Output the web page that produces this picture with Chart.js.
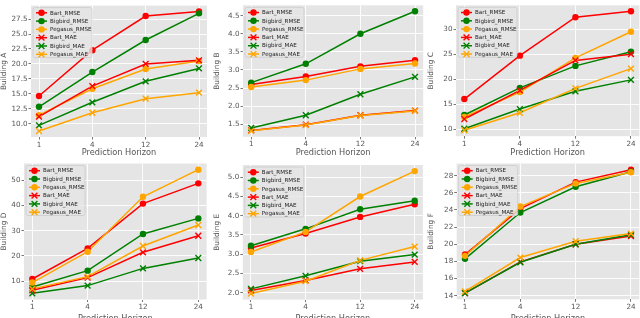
<!DOCTYPE html>
<html>
<head>
<meta charset="utf-8">
<script src="https://cdn.jsdelivr.net/npm/chart.js@4"></script>
<style>
html, body { margin: 0; padding: 0; background: #fff; }
#wrap { position: relative; width: 640px; height: 318px; overflow: hidden; }
#wrap canvas { position: absolute; }
</style>
</head>
<body>
<div id="wrap"></div>
<script>
const horizons = ['1', '4', '12', '24'];
const seriesNames = ['Bart_RMSE', 'Bigbird_RMSE', 'Pegasus_RMSE', 'Bart_MAE', 'Bigbird_MAE', 'Pegasus_MAE'];

// rows follow seriesNames, columns follow horizons
const buildingA = [
    [14.65, 22.3, 28.0, 28.75],
    [12.85, 18.65, 24.0, 28.45],
    [11.45, 15.85, 19.15, 20.5],
    [11.2, 16.3, 20.0, 20.6],
    [9.75, 13.6, 17.1, 19.25],
    [8.8, 11.85, 14.2, 15.2]
];
const buildingB = [
    [2.6, 2.82, 3.1, 3.27],
    [2.65, 3.17, 4.0, 4.62],
    [2.53, 2.72, 3.03, 3.18],
    [1.33, 1.49, 1.75, 1.88],
    [1.4, 1.75, 2.33, 2.81],
    [1.32, 1.48, 1.74, 1.87]
];
const buildingC = [
    [16.0, 24.7, 32.4, 33.6],
    [12.8, 18.25, 22.65, 25.5],
    [12.4, 17.4, 24.25, 29.5],
    [12.0, 17.75, 23.75, 25.0],
    [10.05, 14.0, 17.55, 19.85],
    [9.75, 13.25, 18.15, 22.1]
];
const buildingD = [
    [10.9, 23.0, 40.7, 48.7],
    [7.75, 14.2, 28.7, 34.85],
    [9.5, 21.7, 43.4, 54.1],
    [6.45, 11.45, 21.45, 28.0],
    [5.25, 8.3, 15.1, 19.2],
    [7.0, 11.85, 23.95, 32.25]
];
const buildingE = [
    [3.16, 3.54, 3.97, 4.30],
    [3.22, 3.66, 4.17, 4.39],
    [3.06, 3.58, 4.50, 5.16],
    [2.06, 2.32, 2.62, 2.80],
    [2.10, 2.44, 2.82, 2.99],
    [1.98, 2.30, 2.84, 3.20]
];
const buildingF = [
    [18.8, 24.15, 27.25, 28.7],
    [18.3, 23.7, 26.7, 28.45],
    [18.65, 24.4, 27.1, 28.4],
    [14.3, 17.95, 20.0, 20.95],
    [14.3, 17.9, 20.0, 21.1],
    [14.5, 18.45, 20.35, 21.25]
];

const buildingTitles = ['Building A', 'Building B', 'Building C', 'Building D', 'Building E', 'Building F'];
const tickSteps = [2.5, 0.5, 5, 10, 0.5, 2];
const tickDecimals = [1, 1, 0, 0, 1, 0];

const lineColors = ['#ff0000', '#008000', '#ffa500', '#ff0000', '#008000', '#ffa500'];
const markers = ['circle', 'circle', 'circle', 'x', 'x', 'x'];

// page boxes: canvas and plot area of each panel
const panels = [
    { left: 0,   top: 0,   w: 213, h: 160, cl: 31,    cr: 207,   ct: 5.6,   cb: 137 },
    { left: 213, top: 0,   w: 214, h: 160, cl: 243,   cr: 423.2, ct: 1.9,   cb: 136.8 },
    { left: 427, top: 0,   w: 213, h: 160, cl: 456,   cr: 639.3, ct: 0.5,   cb: 136.2 },
    { left: 0,   top: 158, w: 213, h: 168, cl: 24,    cr: 206.6, ct: 163.5, cb: 299.5 },
    { left: 213, top: 158, w: 214, h: 168, cl: 242.8, cr: 422.9, ct: 165,   cb: 299.6 },
    { left: 427, top: 158, w: 213, h: 168, cl: 456.7, cr: 639.3, ct: 163.5, cb: 299.3 }
];

const FONT = '"DejaVu Sans", sans-serif';
const GREY = '#555555';

function drawMarker(c, kind, x, y, color) {
    c.save();
    if (kind === 'circle') {
        c.fillStyle = color;
        c.beginPath();
        c.arc(x, y, 3.2, 0, Math.PI * 2);
        c.fill();
    } else {
        c.strokeStyle = color;
        c.lineWidth = 1.4;
        const r = 2.9;
        c.beginPath();
        c.moveTo(x - r, y - r); c.lineTo(x + r, y + r);
        c.moveTo(x - r, y + r); c.lineTo(x + r, y - r);
        c.stroke();
    }
    c.restore();
}

const bgPlugin = {
    id: 'ggBackground',
    beforeDraw(chart) {
        const a = chart.chartArea, c = chart.ctx;
        c.save();
        c.fillStyle = '#e5e5e5';
        c.fillRect(a.left, a.top, a.right - a.left, a.bottom - a.top);
        c.restore();
    }
};

const markerPlugin = {
    id: 'mplMarkers',
    afterDatasetsDraw(chart) {
        const c = chart.ctx, a = chart.chartArea;
        c.save();
        c.beginPath();
        c.rect(a.left, a.top, a.right - a.left, a.bottom - a.top);
        c.clip();
        chart.data.datasets.forEach((ds, i) => {
            const meta = chart.getDatasetMeta(i);
            meta.data.forEach(pt => drawMarker(c, markers[i], pt.x, pt.y, lineColors[i]));
        });
        c.restore();
    }
};

const legendPlugin = {
    id: 'boxLegend',
    afterDraw(chart) {
        const a = chart.chartArea, c = chart.ctx;
        const x0 = a.left + 2, y0 = a.top + 2, w = 59, h = 50;
        c.save();
        c.fillStyle = 'rgba(229,229,229,0.8)';
        c.strokeStyle = '#cccccc';
        c.lineWidth = 0.8;
        c.beginPath();
        c.roundRect(x0, y0, w, h, 2);
        c.fill();
        c.stroke();
        c.font = '5.6px ' + FONT;
        c.textBaseline = 'middle';
        chart.data.datasets.forEach((ds, i) => {
            const y = y0 + 5.2 + i * 8.3;
            c.strokeStyle = lineColors[i];
            c.lineWidth = 1.5;
            c.beginPath();
            c.moveTo(x0 + 3, y);
            c.lineTo(x0 + 14, y);
            c.stroke();
            drawMarker(c, markers[i], x0 + 8.5, y, lineColors[i]);
            c.fillStyle = '#222';
            c.fillText(ds.label, x0 + 17, y + 0.3);
        });
        c.restore();
    }
};

const allBuildings = [buildingA, buildingB, buildingC, buildingD, buildingE, buildingF];
const wrap = document.getElementById('wrap');

allBuildings.forEach((rows, p) => {
    const box = panels[p];
    const canvas = document.createElement('canvas');
    canvas.width = box.w;
    canvas.height = box.h;
    canvas.style.left = box.left + 'px';
    canvas.style.top = box.top + 'px';
    wrap.appendChild(canvas);

    // matplotlib-like autoscale: 5% margin
    const flat = rows.flat();
    const lo = Math.min(...flat), hi = Math.max(...flat);
    const yMin = lo - (hi - lo) * 0.05;
    const yMax = hi + (hi - lo) * 0.05;
    const step = tickSteps[p];

    const yw = box.cl - box.left;
    const xh = box.top + box.h - box.cb;

    new Chart(canvas.getContext('2d'), {
        type: 'line',
        data: {
            datasets: rows.map((vals, i) => ({
                label: seriesNames[i],
                data: vals.map((v, k) => ({ x: k, y: v })),
                borderColor: lineColors[i],
                borderWidth: 1.5,
                pointRadius: 0,
                fill: false,
                tension: 0,
                order: rows.length - i
            }))
        },
        options: {
            responsive: false,
            animation: false,
            events: [],
            layout: {
                autoPadding: false,
                padding: { left: 0, right: box.left + box.w - box.cr, top: box.ct - box.top, bottom: 0 }
            },
            plugins: { legend: { display: false }, tooltip: { enabled: false } },
            scales: {
                x: {
                    type: 'linear',
                    min: -0.15,
                    max: 3.15,
                    afterBuildTicks: s => { s.ticks = horizons.map((h, k) => ({ value: k })); },
                    afterFit: s => { s.height = xh; },
                    ticks: {
                        callback: v => horizons[v],
                        color: GREY,
                        font: { family: FONT, size: 7.2 },
                        padding: 1,
                        maxRotation: 0
                    },
                    grid: { color: '#ffffff', lineWidth: 0.9, tickLength: 2.5, tickColor: GREY, tickWidth: 0.8 },
                    border: { display: false },
                    title: {
                        display: true,
                        text: 'Prediction Horizon',
                        color: GREY,
                        font: { family: FONT, size: 8.2 },
                        padding: { top: 0, bottom: 2 }
                    }
                },
                y: {
                    type: 'linear',
                    min: yMin,
                    max: yMax,
                    afterBuildTicks: s => {
                        const t = [];
                        for (let v = Math.ceil(yMin / step) * step; v <= yMax; v += step) t.push({ value: v });
                        s.ticks = t;
                    },
                    afterFit: s => { s.width = yw; },
                    ticks: {
                        callback: v => v.toFixed(tickDecimals[p]),
                        color: GREY,
                        font: { family: FONT, size: 7.2 },
                        padding: 1,
                        autoSkip: false
                    },
                    grid: { color: '#ffffff', lineWidth: 0.9, tickLength: 2.5, tickColor: GREY, tickWidth: 0.8 },
                    border: { display: false },
                    title: {
                        display: true,
                        text: buildingTitles[p],
                        color: GREY,
                        font: { family: FONT, size: 7.4 },
                        padding: { top: 0, bottom: 0 }
                    }
                }
            }
        },
        plugins: [bgPlugin, markerPlugin, legendPlugin]
    });
});
</script>
</body>
</html>
